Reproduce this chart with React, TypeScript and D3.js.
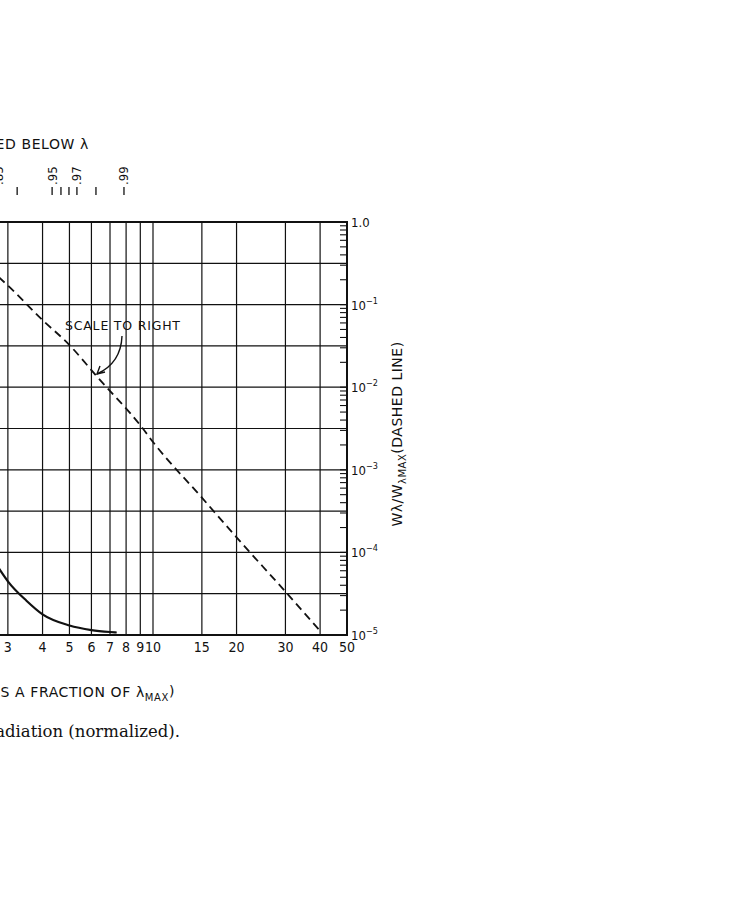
import React from "react";
import * as d3 from "d3";

// λ/λmax values of the vertical grid lines and bottom tick labels
const gridX = [1, 1.5, 2, 3, 4, 5, 6, 7, 8, 9, 10, 15, 20, 30, 40];
const xTickValues = [3, 4, 5, 6, 7, 8, 9, 10, 15, 20, 30, 40, 50];
const xTickLabels = ["3", "4", "5", "6", "7", "8", "9", "10", "15", "20", "30", "40", "50"];

// horizontal grid (left linear scale, 0..1 in tenths)
const gridYLeft = [0.1, 0.2, 0.3, 0.4, 0.5, 0.6, 0.7, 0.8, 0.9];

// right log axis labels
const rightDecades = [1, 1e-1, 1e-2, 1e-3, 1e-4, 1e-5];
const rightExponents = ["", "-1", "-2", "-3", "-4", "-5"];

// top axis: fraction of energy radiated below λ (position in λ/λmax)
const topTickPos = [2.78, 3.24, 4.33, 4.66, 4.98, 5.32, 6.23, 7.86];
const topTickLabels = [".85", "", ".95", "", "", ".97", "", ".99"];

// dashed curve: Wλ/Wλmax, log scale to right
const dashedX = [2.78, 3, 4, 5, 6.3, 9.1, 10, 15, 20, 30, 40];
const dashedY = [0.215, 0.17, 0.065, 0.0324, 0.0133, 0.0033, 0.00217, 0.00046, 0.000152, 0.0000335, 0.0000112];

// solid curve: Wλ/Wλmax, linear scale to left
const solidX = [2.78, 3, 3.5, 4, 5, 6, 7, 7.4];
const solidY = [0.162, 0.13, 0.083, 0.05, 0.023, 0.012, 0.0072, 0.006];

const LETTER = "'DejaVu Sans', sans-serif";
const DIGITS = "'DejaVu Sans Condensed', 'DejaVu Sans', sans-serif";

export default function App() {
  const x = d3.scaleLog().domain([10, 50]).range([153, 347]);
  const yLog = d3.scaleLog().domain([1e-5, 1]).range([635, 222]);
  const yLin = d3.scaleLinear().domain([0, 1]).range([635, 222]);

  const left = -300;
  const right = x(50);
  const top = yLin(1);
  const bottom = yLin(0);

  const dashedPts: [number, number][] = dashedX.map((v, i) => [x(v), yLog(dashedY[i])]);
  const solidPts: [number, number][] = solidX.map((v, i) => [x(v), yLin(solidY[i])]);
  const line = d3.line().curve(d3.curveMonotoneX);

  const minorTicks = yLog.ticks();

  return (
    <svg
      width={735}
      height={900}
      style={{ position: "absolute", left: 0, top: 0, background: "#fff" }}
      fontFamily={LETTER}
    >
      <rect x={0} y={0} width={735} height={900} fill="#fff" />
      {/* title */}
      <text x={89} y={149} fontSize={14} letterSpacing={0.6} textAnchor="end" fill="#111">
        FRACTION OF ENERGY RADIATED BELOW λ
      </text>
      {/* top ticks */}
      {topTickPos.map((v, i) => (
        <g key={"tt" + i}>
          <line x1={x(v)} x2={x(v)} y1={187} y2={195} stroke="#111" strokeWidth={1.3} />
          {topTickLabels[i] && (
            <text
              transform={`translate(${x(v) + 4.5},185) rotate(-90)`}
              fontSize={13}
              fontFamily={DIGITS}
              fill="#111"
            >
              {topTickLabels[i]}
            </text>
          )}
        </g>
      ))}

      {/* grid */}
      {gridX.map((v) => (
        <line key={"gx" + v} x1={x(v)} x2={x(v)} y1={top} y2={bottom} stroke="#111" strokeWidth={1.2} />
      ))}
      {gridYLeft.map((v) => (
        <line key={"gy" + v} x1={left} x2={right} y1={yLin(v)} y2={yLin(v)} stroke="#111" strokeWidth={1.2} />
      ))}

      {/* right axis minor ticks */}
      {minorTicks.map((v, i) => (
        <line
          key={"mt" + i}
          x1={right - 7}
          x2={right}
          y1={yLog(v)}
          y2={yLog(v)}
          stroke="#111"
          strokeWidth={1.1}
        />
      ))}

      {/* frame */}
      <line x1={left} x2={right} y1={top} y2={top} stroke="#111" strokeWidth={2} />
      <line x1={left} x2={right} y1={bottom} y2={bottom} stroke="#111" strokeWidth={2} />
      <line x1={right} x2={right} y1={top - 1} y2={bottom + 1} stroke="#111" strokeWidth={2} />

      {/* curves */}
      <path d={line(dashedPts) || ""} fill="none" stroke="#111" strokeWidth={1.8} strokeDasharray="8,5" />
      <path d={line(solidPts) || ""} fill="none" stroke="#111" strokeWidth={2.2} />

      {/* annotation */}
      <text x={65} y={330} fontSize={12.5} letterSpacing={0.8} fill="#111">SCALE TO RIGHT</text>
      <path d="M122,336 Q121,363 97,374" fill="none" stroke="#111" strokeWidth={1.4} />
      <path d="M100,366 L97,374 L105,372" fill="none" stroke="#111" strokeWidth={1.4} />

      {/* bottom tick labels */}
      {xTickValues.map((v, i) => (
        <text key={"xl" + v} x={x(v)} y={652} fontSize={14} fontFamily={DIGITS} textAnchor="middle" fill="#111">
          {xTickLabels[i]}
        </text>
      ))}

      {/* right axis labels */}
      {rightDecades.map((v, i) => (
        <text key={"rl" + i} x={351} y={yLog(v) + 5} fontSize={13} fontFamily={DIGITS} fill="#111">
          {i === 0 ? "1.0" : "10"}
          {rightExponents[i] && (
            <tspan dy={-6} fontSize={9}>
              {rightExponents[i].replace("-", "−")}
            </tspan>
          )}
        </text>
      ))}

      {/* right axis title */}
      <text
        transform="translate(402,434) rotate(-90)"
        fontSize={14}
        letterSpacing={0.5}
        textAnchor="middle"
        fill="#111"
      >
        Wλ/W
        <tspan dy={4} fontSize={10}>λMAX</tspan>
        <tspan dy={-4}>(DASHED LINE)</tspan>
      </text>

      {/* x axis title */}
      <text x={175} y={697} fontSize={14} letterSpacing={0.6} textAnchor="end" fill="#111">
        WAVELENGTH (AS A FRACTION OF λ
        <tspan dy={4} fontSize={10}>MAX</tspan>
        <tspan dy={-5}>)</tspan>
      </text>

      {/* caption */}
      <text
        x={180}
        y={737}
        fontSize={16.5}
        textAnchor="end"
        fontFamily="'DejaVu Serif', serif"
        fill="#111"
      >
        Figure 2. Spectral distribution of blackbody radiation (normalized).
      </text>
    </svg>
  );
}
